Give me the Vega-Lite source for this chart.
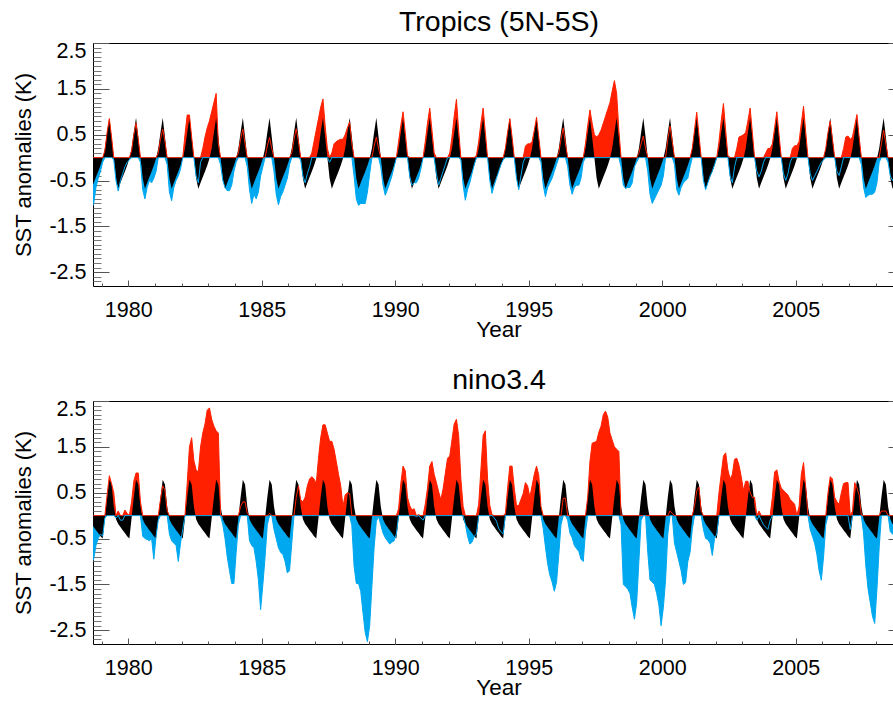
{
"$schema": "https://vega.github.io/schema/vega-lite/v6.json",
"padding": {"left": 11, "top": 7, "right": 0, "bottom": 0},
"background": "white",
"config": {"font": "Liberation Sans", "view": {"stroke": null},
 "axis": {"labelFont": "Liberation Sans", "titleFont": "Liberation Sans", "labelColor": "#000", "titleColor": "#000", "domainColor": "#000", "tickColor": "#555", "grid": false, "minExtent": 0}},
"data": {"values": [
{"t":1978.625,"c1":-0.68,"p1":0,"n1":-1.1,"c2":-0.18,"p2":0,"n2":-1.05},
{"t":1978.708,"c1":-0.55,"p1":0,"n1":-1.0,"c2":-0.25,"p2":0,"n2":-0.94},
{"t":1978.792,"c1":-0.42,"p1":0,"n1":-0.65,"c2":-0.32,"p2":0,"n2":-0.65},
{"t":1978.875,"c1":-0.3,"p1":0,"n1":-0.45,"c2":-0.38,"p2":0,"n2":-0.5},
{"t":1978.958,"c1":-0.17,"p1":0,"n1":-0.3,"c2":-0.45,"p2":0,"n2":-0.4},
{"t":1979.042,"c1":-0.02,"p1":0,"n1":-0.1,"c2":-0.5,"p2":0,"n2":-0.45},
{"t":1979.125,"c1":0.2,"p1":0.15,"n1":0,"c2":-0.05,"p2":0,"n2":-0.05},
{"t":1979.208,"c1":0.55,"p1":0.55,"n1":0,"c2":0.4,"p2":0.45,"n2":0},
{"t":1979.292,"c1":0.87,"p1":0.85,"n1":0,"c2":0.78,"p2":0.87,"n2":0},
{"t":1979.375,"c1":0.45,"p1":0.45,"n1":0,"c2":0.68,"p2":0.7,"n2":0},
{"t":1979.458,"c1":0,"p1":0,"n1":-0.05,"c2":0.2,"p2":0.5,"n2":0},
{"t":1979.542,"c1":-0.45,"p1":0,"n1":-0.5,"c2":-0.08,"p2":0,"n2":-0.05},
{"t":1979.625,"c1":-0.68,"p1":0,"n1":-0.73,"c2":-0.18,"p2":0.1,"n2":0},
{"t":1979.708,"c1":-0.55,"p1":0,"n1":-0.5,"c2":-0.25,"p2":0,"n2":-0.1},
{"t":1979.792,"c1":-0.42,"p1":0,"n1":-0.35,"c2":-0.32,"p2":0,"n2":-0.1},
{"t":1979.875,"c1":-0.3,"p1":0,"n1":-0.2,"c2":-0.38,"p2":0.12,"n2":0},
{"t":1979.958,"c1":-0.17,"p1":0,"n1":-0.1,"c2":-0.45,"p2":0.05,"n2":0},
{"t":1980.042,"c1":-0.02,"p1":0,"n1":-0.05,"c2":-0.5,"p2":0,"n2":0},
{"t":1980.125,"c1":0.2,"p1":0.15,"n1":0,"c2":-0.05,"p2":0.3,"n2":0},
{"t":1980.208,"c1":0.55,"p1":0.5,"n1":0,"c2":0.4,"p2":0.75,"n2":0},
{"t":1980.292,"c1":0.87,"p1":0.75,"n1":0,"c2":0.78,"p2":0.93,"n2":0},
{"t":1980.375,"c1":0.45,"p1":0.4,"n1":0,"c2":0.68,"p2":0.93,"n2":0},
{"t":1980.458,"c1":0,"p1":0,"n1":-0.1,"c2":0.2,"p2":0.3,"n2":0},
{"t":1980.542,"c1":-0.45,"p1":0,"n1":-0.7,"c2":-0.08,"p2":0,"n2":-0.45},
{"t":1980.625,"c1":-0.68,"p1":0,"n1":-0.9,"c2":-0.18,"p2":0,"n2":-0.5},
{"t":1980.708,"c1":-0.55,"p1":0,"n1":-0.65,"c2":-0.25,"p2":0,"n2":-0.52},
{"t":1980.792,"c1":-0.42,"p1":0,"n1":-0.5,"c2":-0.32,"p2":0,"n2":-0.55},
{"t":1980.875,"c1":-0.3,"p1":0,"n1":-0.55,"c2":-0.38,"p2":0,"n2":-0.5},
{"t":1980.958,"c1":-0.17,"p1":0,"n1":-0.45,"c2":-0.45,"p2":0,"n2":-0.95},
{"t":1981.042,"c1":-0.02,"p1":0,"n1":-0.3,"c2":-0.5,"p2":0,"n2":-0.45},
{"t":1981.125,"c1":0.2,"p1":0.1,"n1":0,"c2":-0.05,"p2":0,"n2":-0.1},
{"t":1981.208,"c1":0.55,"p1":0.4,"n1":0,"c2":0.4,"p2":0.35,"n2":0},
{"t":1981.292,"c1":0.87,"p1":0.62,"n1":0,"c2":0.78,"p2":0.65,"n2":0},
{"t":1981.375,"c1":0.45,"p1":0.35,"n1":0,"c2":0.68,"p2":0.55,"n2":0},
{"t":1981.458,"c1":0,"p1":0,"n1":-0.15,"c2":0.2,"p2":0.1,"n2":0},
{"t":1981.542,"c1":-0.45,"p1":0,"n1":-0.75,"c2":-0.08,"p2":0,"n2":-0.4},
{"t":1981.625,"c1":-0.68,"p1":0,"n1":-0.94,"c2":-0.18,"p2":0,"n2":-0.55},
{"t":1981.708,"c1":-0.55,"p1":0,"n1":-0.65,"c2":-0.25,"p2":0,"n2":-0.6},
{"t":1981.792,"c1":-0.42,"p1":0,"n1":-0.5,"c2":-0.32,"p2":0,"n2":-0.65},
{"t":1981.875,"c1":-0.3,"p1":0,"n1":-0.4,"c2":-0.38,"p2":0,"n2":-1.0},
{"t":1981.958,"c1":-0.17,"p1":0,"n1":-0.25,"c2":-0.45,"p2":0,"n2":-0.6},
{"t":1982.042,"c1":-0.02,"p1":0,"n1":0,"c2":-0.5,"p2":0,"n2":-0.3},
{"t":1982.125,"c1":0.2,"p1":0.5,"n1":0,"c2":-0.05,"p2":0,"n2":0},
{"t":1982.208,"c1":0.55,"p1":0.93,"n1":0,"c2":0.4,"p2":0.7,"n2":0},
{"t":1982.292,"c1":0.87,"p1":0.93,"n1":0,"c2":0.78,"p2":1.5,"n2":0},
{"t":1982.375,"c1":0.45,"p1":0.45,"n1":0,"c2":0.68,"p2":1.7,"n2":0},
{"t":1982.458,"c1":0,"p1":0,"n1":0,"c2":0.2,"p2":1.2,"n2":0},
{"t":1982.542,"c1":-0.45,"p1":0,"n1":-0.4,"c2":-0.08,"p2":1.0,"n2":0},
{"t":1982.625,"c1":-0.68,"p1":0,"n1":-0.55,"c2":-0.18,"p2":0.95,"n2":0},
{"t":1982.708,"c1":-0.55,"p1":0,"n1":-0.1,"c2":-0.25,"p2":1.5,"n2":0},
{"t":1982.792,"c1":-0.42,"p1":0.2,"n1":0,"c2":-0.32,"p2":1.8,"n2":0},
{"t":1982.875,"c1":-0.3,"p1":0.45,"n1":0,"c2":-0.38,"p2":2.0,"n2":0},
{"t":1982.958,"c1":-0.17,"p1":0.65,"n1":0,"c2":-0.45,"p2":2.3,"n2":0},
{"t":1983.042,"c1":-0.02,"p1":0.8,"n1":0,"c2":-0.5,"p2":2.35,"n2":0},
{"t":1983.125,"c1":0.2,"p1":1.0,"n1":0,"c2":-0.05,"p2":2.1,"n2":0},
{"t":1983.208,"c1":0.55,"p1":1.2,"n1":0,"c2":0.4,"p2":1.95,"n2":0},
{"t":1983.292,"c1":0.87,"p1":1.4,"n1":0,"c2":0.78,"p2":1.85,"n2":0},
{"t":1983.375,"c1":0.45,"p1":0.3,"n1":0,"c2":0.68,"p2":1.8,"n2":0},
{"t":1983.458,"c1":0,"p1":0,"n1":-0.15,"c2":0.2,"p2":0,"n2":0},
{"t":1983.542,"c1":-0.45,"p1":0,"n1":-0.5,"c2":-0.08,"p2":0,"n2":-0.2},
{"t":1983.625,"c1":-0.68,"p1":0,"n1":-0.65,"c2":-0.18,"p2":0,"n2":-0.5},
{"t":1983.708,"c1":-0.55,"p1":0,"n1":-0.72,"c2":-0.25,"p2":0,"n2":-0.9},
{"t":1983.792,"c1":-0.42,"p1":0,"n1":-0.72,"c2":-0.32,"p2":0,"n2":-1.2},
{"t":1983.875,"c1":-0.3,"p1":0,"n1":-0.6,"c2":-0.38,"p2":0,"n2":-1.48},
{"t":1983.958,"c1":-0.17,"p1":0,"n1":-0.3,"c2":-0.45,"p2":0,"n2":-1.48},
{"t":1984.042,"c1":-0.02,"p1":0,"n1":-0.1,"c2":-0.5,"p2":0,"n2":-0.8},
{"t":1984.125,"c1":0.2,"p1":0.1,"n1":0,"c2":-0.05,"p2":0,"n2":-0.2},
{"t":1984.208,"c1":0.55,"p1":0.4,"n1":0,"c2":0.4,"p2":0.2,"n2":0},
{"t":1984.292,"c1":0.87,"p1":0.62,"n1":0,"c2":0.78,"p2":0.3,"n2":0},
{"t":1984.375,"c1":0.45,"p1":0.3,"n1":0,"c2":0.68,"p2":0.3,"n2":0},
{"t":1984.458,"c1":0,"p1":0,"n1":-0.2,"c2":0.2,"p2":0.05,"n2":0},
{"t":1984.542,"c1":-0.45,"p1":0,"n1":-0.7,"c2":-0.08,"p2":0,"n2":-0.55},
{"t":1984.625,"c1":-0.68,"p1":0,"n1":-1.0,"c2":-0.18,"p2":0,"n2":-0.65},
{"t":1984.708,"c1":-0.55,"p1":0,"n1":-0.8,"c2":-0.25,"p2":0,"n2":-0.7},
{"t":1984.792,"c1":-0.42,"p1":0,"n1":-0.9,"c2":-0.32,"p2":0,"n2":-1.0},
{"t":1984.875,"c1":-0.3,"p1":0,"n1":-0.75,"c2":-0.38,"p2":0,"n2":-1.4},
{"t":1984.958,"c1":-0.17,"p1":0,"n1":-0.4,"c2":-0.45,"p2":0,"n2":-2.05},
{"t":1985.042,"c1":-0.02,"p1":0,"n1":-0.2,"c2":-0.5,"p2":0,"n2":-1.5},
{"t":1985.125,"c1":0.2,"p1":0,"n1":0,"c2":-0.05,"p2":0,"n2":-0.9},
{"t":1985.208,"c1":0.55,"p1":0.25,"n1":0,"c2":0.4,"p2":0,"n2":-0.2},
{"t":1985.292,"c1":0.87,"p1":0.44,"n1":0,"c2":0.78,"p2":0.05,"n2":0},
{"t":1985.375,"c1":0.45,"p1":0.2,"n1":0,"c2":0.68,"p2":0,"n2":0},
{"t":1985.458,"c1":0,"p1":0,"n1":-0.3,"c2":0.2,"p2":0,"n2":-0.3},
{"t":1985.542,"c1":-0.45,"p1":0,"n1":-0.8,"c2":-0.08,"p2":0,"n2":-0.5},
{"t":1985.625,"c1":-0.68,"p1":0,"n1":-1.03,"c2":-0.18,"p2":0,"n2":-0.7},
{"t":1985.708,"c1":-0.55,"p1":0,"n1":-0.85,"c2":-0.25,"p2":0,"n2":-0.8},
{"t":1985.792,"c1":-0.42,"p1":0,"n1":-0.75,"c2":-0.32,"p2":0,"n2":-0.85},
{"t":1985.875,"c1":-0.3,"p1":0,"n1":-0.6,"c2":-0.38,"p2":0,"n2":-1.0},
{"t":1985.958,"c1":-0.17,"p1":0,"n1":-0.45,"c2":-0.45,"p2":0,"n2":-1.25},
{"t":1986.042,"c1":-0.02,"p1":0,"n1":-0.15,"c2":-0.5,"p2":0,"n2":-1.2},
{"t":1986.125,"c1":0.2,"p1":0.1,"n1":0,"c2":-0.05,"p2":0,"n2":-0.6},
{"t":1986.208,"c1":0.55,"p1":0.4,"n1":0,"c2":0.4,"p2":0,"n2":0},
{"t":1986.292,"c1":0.87,"p1":0.63,"n1":0,"c2":0.78,"p2":0.4,"n2":0},
{"t":1986.375,"c1":0.45,"p1":0.35,"n1":0,"c2":0.68,"p2":0.65,"n2":0},
{"t":1986.458,"c1":0,"p1":0,"n1":-0.05,"c2":0.2,"p2":0.35,"n2":0},
{"t":1986.542,"c1":-0.45,"p1":0,"n1":-0.4,"c2":-0.08,"p2":0.3,"n2":0},
{"t":1986.625,"c1":-0.68,"p1":0,"n1":-0.55,"c2":-0.18,"p2":0.4,"n2":0},
{"t":1986.708,"c1":-0.55,"p1":0,"n1":-0.35,"c2":-0.25,"p2":0.65,"n2":0},
{"t":1986.792,"c1":-0.42,"p1":0,"n1":-0.2,"c2":-0.32,"p2":0.8,"n2":0},
{"t":1986.875,"c1":-0.3,"p1":0.1,"n1":0,"c2":-0.38,"p2":0.85,"n2":0},
{"t":1986.958,"c1":-0.17,"p1":0.35,"n1":0,"c2":-0.45,"p2":0.8,"n2":0},
{"t":1987.042,"c1":-0.02,"p1":0.6,"n1":0,"c2":-0.5,"p2":0.7,"n2":0},
{"t":1987.125,"c1":0.2,"p1":0.85,"n1":0,"c2":-0.05,"p2":1.25,"n2":0},
{"t":1987.208,"c1":0.55,"p1":1.1,"n1":0,"c2":0.4,"p2":1.7,"n2":0},
{"t":1987.292,"c1":0.87,"p1":1.28,"n1":0,"c2":0.78,"p2":1.98,"n2":0},
{"t":1987.375,"c1":0.45,"p1":0.7,"n1":0,"c2":0.68,"p2":1.98,"n2":0},
{"t":1987.458,"c1":0,"p1":0.2,"n1":0,"c2":0.2,"p2":1.8,"n2":0},
{"t":1987.542,"c1":-0.45,"p1":0,"n1":-0.1,"c2":-0.08,"p2":1.62,"n2":0},
{"t":1987.625,"c1":-0.68,"p1":0.1,"n1":0,"c2":-0.18,"p2":1.62,"n2":0},
{"t":1987.708,"c1":-0.55,"p1":0.3,"n1":0,"c2":-0.25,"p2":1.45,"n2":0},
{"t":1987.792,"c1":-0.42,"p1":0.35,"n1":0,"c2":-0.32,"p2":1.18,"n2":0},
{"t":1987.875,"c1":-0.3,"p1":0.38,"n1":0,"c2":-0.38,"p2":0.9,"n2":0},
{"t":1987.958,"c1":-0.17,"p1":0.4,"n1":0,"c2":-0.45,"p2":0.65,"n2":0},
{"t":1988.042,"c1":-0.02,"p1":0.4,"n1":0,"c2":-0.5,"p2":0.2,"n2":0},
{"t":1988.125,"c1":0.2,"p1":0.5,"n1":0,"c2":-0.05,"p2":0.45,"n2":0},
{"t":1988.208,"c1":0.55,"p1":0.65,"n1":0,"c2":0.4,"p2":0.5,"n2":0},
{"t":1988.292,"c1":0.87,"p1":0.78,"n1":0,"c2":0.78,"p2":0.48,"n2":0},
{"t":1988.375,"c1":0.45,"p1":0.3,"n1":0,"c2":0.68,"p2":0,"n2":-0.22},
{"t":1988.458,"c1":0,"p1":0,"n1":-0.4,"c2":0.2,"p2":0,"n2":-1.1},
{"t":1988.542,"c1":-0.45,"p1":0,"n1":-0.9,"c2":-0.08,"p2":0,"n2":-1.48},
{"t":1988.625,"c1":-0.68,"p1":0,"n1":-1.04,"c2":-0.18,"p2":0,"n2":-1.48},
{"t":1988.708,"c1":-0.55,"p1":0,"n1":-1.0,"c2":-0.25,"p2":0,"n2":-1.65},
{"t":1988.792,"c1":-0.42,"p1":0,"n1":-1.0,"c2":-0.32,"p2":0,"n2":-2.12},
{"t":1988.875,"c1":-0.3,"p1":0,"n1":-1.0,"c2":-0.38,"p2":0,"n2":-2.55},
{"t":1988.958,"c1":-0.17,"p1":0,"n1":-0.75,"c2":-0.45,"p2":0,"n2":-2.75},
{"t":1989.042,"c1":-0.02,"p1":0,"n1":-0.35,"c2":-0.5,"p2":0,"n2":-2.4},
{"t":1989.125,"c1":0.2,"p1":0,"n1":0,"c2":-0.05,"p2":0,"n2":-1.55},
{"t":1989.208,"c1":0.55,"p1":0.25,"n1":0,"c2":0.4,"p2":0,"n2":-0.7},
{"t":1989.292,"c1":0.87,"p1":0.45,"n1":0,"c2":0.78,"p2":0,"n2":-0.12},
{"t":1989.375,"c1":0.45,"p1":0.2,"n1":0,"c2":0.68,"p2":0,"n2":-0.02},
{"t":1989.458,"c1":0,"p1":0,"n1":-0.2,"c2":0.2,"p2":0,"n2":-0.2},
{"t":1989.542,"c1":-0.45,"p1":0,"n1":-0.6,"c2":-0.08,"p2":0,"n2":-0.38},
{"t":1989.625,"c1":-0.68,"p1":0,"n1":-0.82,"c2":-0.18,"p2":0,"n2":-0.48},
{"t":1989.708,"c1":-0.55,"p1":0,"n1":-0.7,"c2":-0.25,"p2":0,"n2":-0.55},
{"t":1989.792,"c1":-0.42,"p1":0,"n1":-0.55,"c2":-0.32,"p2":0,"n2":-0.62},
{"t":1989.875,"c1":-0.3,"p1":0,"n1":-0.4,"c2":-0.38,"p2":0,"n2":-0.58},
{"t":1989.958,"c1":-0.17,"p1":0,"n1":-0.2,"c2":-0.45,"p2":0,"n2":-0.55},
{"t":1990.042,"c1":-0.02,"p1":0,"n1":0,"c2":-0.5,"p2":0,"n2":-0.4},
{"t":1990.125,"c1":0.2,"p1":0.35,"n1":0,"c2":-0.05,"p2":0.15,"n2":0},
{"t":1990.208,"c1":0.55,"p1":0.7,"n1":0,"c2":0.4,"p2":0.7,"n2":0},
{"t":1990.292,"c1":0.87,"p1":1.0,"n1":0,"c2":0.78,"p2":1.08,"n2":0},
{"t":1990.375,"c1":0.45,"p1":0.55,"n1":0,"c2":0.68,"p2":0.98,"n2":0},
{"t":1990.458,"c1":0,"p1":0.05,"n1":0,"c2":0.2,"p2":0.4,"n2":0},
{"t":1990.542,"c1":-0.45,"p1":0,"n1":-0.4,"c2":-0.08,"p2":0.22,"n2":0},
{"t":1990.625,"c1":-0.68,"p1":0,"n1":-0.6,"c2":-0.18,"p2":0.12,"n2":0},
{"t":1990.708,"c1":-0.55,"p1":0,"n1":-0.55,"c2":-0.25,"p2":0.15,"n2":0},
{"t":1990.792,"c1":-0.42,"p1":0,"n1":-0.55,"c2":-0.32,"p2":0,"n2":-0.02},
{"t":1990.875,"c1":-0.3,"p1":0,"n1":-0.45,"c2":-0.38,"p2":0.02,"n2":0},
{"t":1990.958,"c1":-0.17,"p1":0,"n1":-0.25,"c2":-0.45,"p2":0,"n2":-0.05},
{"t":1991.042,"c1":-0.02,"p1":0,"n1":0,"c2":-0.5,"p2":0,"n2":-0.1},
{"t":1991.125,"c1":0.2,"p1":0.35,"n1":0,"c2":-0.05,"p2":0.25,"n2":0},
{"t":1991.208,"c1":0.55,"p1":0.75,"n1":0,"c2":0.4,"p2":0.6,"n2":0},
{"t":1991.292,"c1":0.87,"p1":1.08,"n1":0,"c2":0.78,"p2":1.08,"n2":0},
{"t":1991.375,"c1":0.45,"p1":0.6,"n1":0,"c2":0.68,"p2":1.18,"n2":0},
{"t":1991.458,"c1":0,"p1":0.1,"n1":0,"c2":0.2,"p2":0.9,"n2":0},
{"t":1991.542,"c1":-0.45,"p1":0,"n1":-0.35,"c2":-0.08,"p2":0.72,"n2":0},
{"t":1991.625,"c1":-0.68,"p1":0,"n1":-0.6,"c2":-0.18,"p2":0.52,"n2":0},
{"t":1991.708,"c1":-0.55,"p1":0,"n1":-0.45,"c2":-0.25,"p2":0.35,"n2":0},
{"t":1991.792,"c1":-0.42,"p1":0,"n1":-0.3,"c2":-0.32,"p2":0.58,"n2":0},
{"t":1991.875,"c1":-0.3,"p1":0,"n1":-0.15,"c2":-0.38,"p2":0.92,"n2":0},
{"t":1991.958,"c1":-0.17,"p1":0,"n1":0,"c2":-0.45,"p2":1.25,"n2":0},
{"t":1992.042,"c1":-0.02,"p1":0.1,"n1":0,"c2":-0.5,"p2":1.3,"n2":0},
{"t":1992.125,"c1":0.2,"p1":0.45,"n1":0,"c2":-0.05,"p2":1.65,"n2":0},
{"t":1992.208,"c1":0.55,"p1":0.9,"n1":0,"c2":0.4,"p2":2.0,"n2":0},
{"t":1992.292,"c1":0.87,"p1":1.27,"n1":0,"c2":0.78,"p2":2.1,"n2":0},
{"t":1992.375,"c1":0.45,"p1":0.6,"n1":0,"c2":0.68,"p2":1.75,"n2":0},
{"t":1992.458,"c1":0,"p1":0,"n1":-0.05,"c2":0.2,"p2":0.8,"n2":0},
{"t":1992.542,"c1":-0.45,"p1":0,"n1":-0.6,"c2":-0.08,"p2":0.2,"n2":0},
{"t":1992.625,"c1":-0.68,"p1":0,"n1":-0.93,"c2":-0.18,"p2":0,"n2":-0.18},
{"t":1992.708,"c1":-0.55,"p1":0,"n1":-0.7,"c2":-0.25,"p2":0,"n2":-0.45},
{"t":1992.792,"c1":-0.42,"p1":0,"n1":-0.55,"c2":-0.32,"p2":0,"n2":-0.62},
{"t":1992.875,"c1":-0.3,"p1":0,"n1":-0.35,"c2":-0.38,"p2":0,"n2":-0.58},
{"t":1992.958,"c1":-0.17,"p1":0,"n1":-0.15,"c2":-0.45,"p2":0,"n2":-0.45},
{"t":1993.042,"c1":-0.02,"p1":0.05,"n1":0,"c2":-0.5,"p2":0,"n2":-0.4},
{"t":1993.125,"c1":0.2,"p1":0.35,"n1":0,"c2":-0.05,"p2":0.25,"n2":0},
{"t":1993.208,"c1":0.55,"p1":0.75,"n1":0,"c2":0.4,"p2":1.0,"n2":0},
{"t":1993.292,"c1":0.87,"p1":1.08,"n1":0,"c2":0.78,"p2":1.75,"n2":0},
{"t":1993.375,"c1":0.45,"p1":0.55,"n1":0,"c2":0.68,"p2":1.85,"n2":0},
{"t":1993.458,"c1":0,"p1":0,"n1":0,"c2":0.2,"p2":0.8,"n2":0},
{"t":1993.542,"c1":-0.45,"p1":0,"n1":-0.5,"c2":-0.08,"p2":0.22,"n2":0},
{"t":1993.625,"c1":-0.68,"p1":0,"n1":-0.78,"c2":-0.18,"p2":0.02,"n2":0},
{"t":1993.708,"c1":-0.55,"p1":0,"n1":-0.6,"c2":-0.25,"p2":0,"n2":-0.05},
{"t":1993.792,"c1":-0.42,"p1":0,"n1":-0.45,"c2":-0.32,"p2":0,"n2":-0.12},
{"t":1993.875,"c1":-0.3,"p1":0,"n1":-0.3,"c2":-0.38,"p2":0,"n2":-0.28},
{"t":1993.958,"c1":-0.17,"p1":0,"n1":-0.15,"c2":-0.45,"p2":0,"n2":-0.35},
{"t":1994.042,"c1":-0.02,"p1":0,"n1":-0.05,"c2":-0.5,"p2":0,"n2":-0.4},
{"t":1994.125,"c1":0.2,"p1":0.2,"n1":0,"c2":-0.05,"p2":0.05,"n2":0},
{"t":1994.208,"c1":0.55,"p1":0.55,"n1":0,"c2":0.4,"p2":0.6,"n2":0},
{"t":1994.292,"c1":0.87,"p1":0.85,"n1":0,"c2":0.78,"p2":1.08,"n2":0},
{"t":1994.375,"c1":0.45,"p1":0.45,"n1":0,"c2":0.68,"p2":1.08,"n2":0},
{"t":1994.458,"c1":0,"p1":0,"n1":0,"c2":0.2,"p2":0.6,"n2":0},
{"t":1994.542,"c1":-0.45,"p1":0,"n1":-0.45,"c2":-0.08,"p2":0.22,"n2":0},
{"t":1994.625,"c1":-0.68,"p1":0,"n1":-0.7,"c2":-0.18,"p2":0.22,"n2":0},
{"t":1994.708,"c1":-0.55,"p1":0,"n1":-0.4,"c2":-0.25,"p2":0.35,"n2":0},
{"t":1994.792,"c1":-0.42,"p1":0,"n1":-0.1,"c2":-0.32,"p2":0.48,"n2":0},
{"t":1994.875,"c1":-0.3,"p1":0.25,"n1":0,"c2":-0.38,"p2":0.72,"n2":0},
{"t":1994.958,"c1":-0.17,"p1":0.3,"n1":0,"c2":-0.45,"p2":0.65,"n2":0},
{"t":1995.042,"c1":-0.02,"p1":0.3,"n1":0,"c2":-0.5,"p2":0.4,"n2":0},
{"t":1995.125,"c1":0.2,"p1":0.35,"n1":0,"c2":-0.05,"p2":0.65,"n2":0},
{"t":1995.208,"c1":0.55,"p1":0.6,"n1":0,"c2":0.4,"p2":0.9,"n2":0},
{"t":1995.292,"c1":0.87,"p1":0.88,"n1":0,"c2":0.78,"p2":1.08,"n2":0},
{"t":1995.375,"c1":0.45,"p1":0.45,"n1":0,"c2":0.68,"p2":0.88,"n2":0},
{"t":1995.458,"c1":0,"p1":0,"n1":-0.1,"c2":0.2,"p2":0.2,"n2":0},
{"t":1995.542,"c1":-0.45,"p1":0,"n1":-0.6,"c2":-0.08,"p2":0,"n2":-0.28},
{"t":1995.625,"c1":-0.68,"p1":0,"n1":-0.85,"c2":-0.18,"p2":0,"n2":-0.68},
{"t":1995.708,"c1":-0.55,"p1":0,"n1":-0.65,"c2":-0.25,"p2":0,"n2":-1.05},
{"t":1995.792,"c1":-0.42,"p1":0,"n1":-0.55,"c2":-0.32,"p2":0,"n2":-1.3},
{"t":1995.875,"c1":-0.3,"p1":0,"n1":-0.45,"c2":-0.38,"p2":0,"n2":-1.45},
{"t":1995.958,"c1":-0.17,"p1":0,"n1":-0.3,"c2":-0.45,"p2":0,"n2":-1.65},
{"t":1996.042,"c1":-0.02,"p1":0,"n1":-0.15,"c2":-0.5,"p2":0,"n2":-1.45},
{"t":1996.125,"c1":0.2,"p1":0.1,"n1":0,"c2":-0.05,"p2":0,"n2":-0.85},
{"t":1996.208,"c1":0.55,"p1":0.4,"n1":0,"c2":0.4,"p2":0,"n2":-0.2},
{"t":1996.292,"c1":0.87,"p1":0.65,"n1":0,"c2":0.78,"p2":0.38,"n2":0},
{"t":1996.375,"c1":0.45,"p1":0.3,"n1":0,"c2":0.68,"p2":0.38,"n2":0},
{"t":1996.458,"c1":0,"p1":0,"n1":-0.2,"c2":0.2,"p2":0,"n2":-0.1},
{"t":1996.542,"c1":-0.45,"p1":0,"n1":-0.6,"c2":-0.08,"p2":0,"n2":-0.38},
{"t":1996.625,"c1":-0.68,"p1":0,"n1":-0.8,"c2":-0.18,"p2":0,"n2":-0.48},
{"t":1996.708,"c1":-0.55,"p1":0,"n1":-0.65,"c2":-0.25,"p2":0,"n2":-0.65},
{"t":1996.792,"c1":-0.42,"p1":0,"n1":-0.6,"c2":-0.32,"p2":0,"n2":-0.72},
{"t":1996.875,"c1":-0.3,"p1":0,"n1":-0.6,"c2":-0.38,"p2":0,"n2":-0.78},
{"t":1996.958,"c1":-0.17,"p1":0,"n1":-0.45,"c2":-0.45,"p2":0,"n2":-0.95},
{"t":1997.042,"c1":-0.02,"p1":0,"n1":-0.1,"c2":-0.5,"p2":0,"n2":-1.0},
{"t":1997.125,"c1":0.2,"p1":0.3,"n1":0,"c2":-0.05,"p2":0,"n2":-0.35},
{"t":1997.208,"c1":0.55,"p1":0.7,"n1":0,"c2":0.4,"p2":0.4,"n2":0},
{"t":1997.292,"c1":0.87,"p1":1.04,"n1":0,"c2":0.78,"p2":1.18,"n2":0},
{"t":1997.375,"c1":0.45,"p1":0.75,"n1":0,"c2":0.68,"p2":1.58,"n2":0},
{"t":1997.458,"c1":0,"p1":0.5,"n1":0,"c2":0.2,"p2":1.6,"n2":0},
{"t":1997.542,"c1":-0.45,"p1":0.45,"n1":0,"c2":-0.08,"p2":1.62,"n2":0},
{"t":1997.625,"c1":-0.68,"p1":0.5,"n1":0,"c2":-0.18,"p2":1.82,"n2":0},
{"t":1997.708,"c1":-0.55,"p1":0.6,"n1":0,"c2":-0.25,"p2":1.95,"n2":0},
{"t":1997.792,"c1":-0.42,"p1":0.75,"n1":0,"c2":-0.32,"p2":2.2,"n2":0},
{"t":1997.875,"c1":-0.3,"p1":0.9,"n1":0,"c2":-0.38,"p2":2.28,"n2":0},
{"t":1997.958,"c1":-0.17,"p1":1.05,"n1":0,"c2":-0.45,"p2":2.15,"n2":0},
{"t":1998.042,"c1":-0.02,"p1":1.2,"n1":0,"c2":-0.5,"p2":1.8,"n2":0},
{"t":1998.125,"c1":0.2,"p1":1.45,"n1":0,"c2":-0.05,"p2":1.65,"n2":0},
{"t":1998.208,"c1":0.55,"p1":1.68,"n1":0,"c2":0.4,"p2":1.5,"n2":0},
{"t":1998.292,"c1":0.87,"p1":1.4,"n1":0,"c2":0.78,"p2":1.45,"n2":0},
{"t":1998.375,"c1":0.45,"p1":0.6,"n1":0,"c2":0.68,"p2":1.4,"n2":0},
{"t":1998.458,"c1":0,"p1":0,"n1":-0.2,"c2":0.2,"p2":0,"n2":-0.2},
{"t":1998.542,"c1":-0.45,"p1":0,"n1":-0.6,"c2":-0.08,"p2":0,"n2":-1.5},
{"t":1998.625,"c1":-0.68,"p1":0,"n1":-0.67,"c2":-0.18,"p2":0,"n2":-1.55},
{"t":1998.708,"c1":-0.55,"p1":0,"n1":-0.65,"c2":-0.25,"p2":0,"n2":-1.6},
{"t":1998.792,"c1":-0.42,"p1":0,"n1":-0.65,"c2":-0.32,"p2":0,"n2":-1.7},
{"t":1998.875,"c1":-0.3,"p1":0,"n1":-0.55,"c2":-0.38,"p2":0,"n2":-2.0},
{"t":1998.958,"c1":-0.17,"p1":0,"n1":-0.2,"c2":-0.45,"p2":0,"n2":-2.26},
{"t":1999.042,"c1":-0.02,"p1":0,"n1":-0.1,"c2":-0.5,"p2":0,"n2":-1.9},
{"t":1999.125,"c1":0.2,"p1":0.1,"n1":0,"c2":-0.05,"p2":0,"n2":-1.0},
{"t":1999.208,"c1":0.55,"p1":0.3,"n1":0,"c2":0.4,"p2":0,"n2":-0.1},
{"t":1999.292,"c1":0.87,"p1":0.47,"n1":0,"c2":0.78,"p2":0,"n2":0},
{"t":1999.375,"c1":0.45,"p1":0.2,"n1":0,"c2":0.68,"p2":0,"n2":0},
{"t":1999.458,"c1":0,"p1":0,"n1":-0.3,"c2":0.2,"p2":0,"n2":-0.8},
{"t":1999.542,"c1":-0.45,"p1":0,"n1":-0.8,"c2":-0.08,"p2":0,"n2":-1.4},
{"t":1999.625,"c1":-0.68,"p1":0,"n1":-1.0,"c2":-0.18,"p2":0,"n2":-1.45},
{"t":1999.708,"c1":-0.55,"p1":0,"n1":-0.9,"c2":-0.25,"p2":0,"n2":-1.5},
{"t":1999.792,"c1":-0.42,"p1":0,"n1":-0.8,"c2":-0.32,"p2":0,"n2":-1.7},
{"t":1999.875,"c1":-0.3,"p1":0,"n1":-0.7,"c2":-0.38,"p2":0,"n2":-1.95},
{"t":1999.958,"c1":-0.17,"p1":0,"n1":-0.6,"c2":-0.45,"p2":0,"n2":-2.4},
{"t":2000.042,"c1":-0.02,"p1":0,"n1":-0.4,"c2":-0.5,"p2":0,"n2":-2.0},
{"t":2000.125,"c1":0.2,"p1":0,"n1":0,"c2":-0.05,"p2":0,"n2":-1.4},
{"t":2000.208,"c1":0.55,"p1":0.4,"n1":0,"c2":0.4,"p2":0,"n2":-0.4},
{"t":2000.292,"c1":0.87,"p1":0.69,"n1":0,"c2":0.78,"p2":0.1,"n2":0},
{"t":2000.375,"c1":0.45,"p1":0.35,"n1":0,"c2":0.68,"p2":0.05,"n2":0},
{"t":2000.458,"c1":0,"p1":0,"n1":-0.15,"c2":0.2,"p2":0,"n2":-0.6},
{"t":2000.542,"c1":-0.45,"p1":0,"n1":-0.7,"c2":-0.08,"p2":0,"n2":-0.8},
{"t":2000.625,"c1":-0.68,"p1":0,"n1":-0.82,"c2":-0.18,"p2":0,"n2":-1.0},
{"t":2000.708,"c1":-0.55,"p1":0,"n1":-0.65,"c2":-0.25,"p2":0,"n2":-1.2},
{"t":2000.792,"c1":-0.42,"p1":0,"n1":-0.55,"c2":-0.32,"p2":0,"n2":-1.5},
{"t":2000.875,"c1":-0.3,"p1":0,"n1":-0.5,"c2":-0.38,"p2":0,"n2":-1.46},
{"t":2000.958,"c1":-0.17,"p1":0,"n1":-0.45,"c2":-0.45,"p2":0,"n2":-1.0},
{"t":2001.042,"c1":-0.02,"p1":0,"n1":-0.2,"c2":-0.5,"p2":0,"n2":-0.8},
{"t":2001.125,"c1":0.2,"p1":0.2,"n1":0,"c2":-0.05,"p2":0,"n2":-0.3},
{"t":2001.208,"c1":0.55,"p1":0.6,"n1":0,"c2":0.4,"p2":0.2,"n2":0},
{"t":2001.292,"c1":0.87,"p1":0.99,"n1":0,"c2":0.78,"p2":0.54,"n2":0},
{"t":2001.375,"c1":0.45,"p1":0.5,"n1":0,"c2":0.68,"p2":0.62,"n2":0},
{"t":2001.458,"c1":0,"p1":0,"n1":0,"c2":0.2,"p2":0.1,"n2":0},
{"t":2001.542,"c1":-0.45,"p1":0,"n1":-0.5,"c2":-0.08,"p2":0,"n2":-0.3},
{"t":2001.625,"c1":-0.68,"p1":0,"n1":-0.7,"c2":-0.18,"p2":0,"n2":-0.5},
{"t":2001.708,"c1":-0.55,"p1":0,"n1":-0.55,"c2":-0.25,"p2":0,"n2":-0.52},
{"t":2001.792,"c1":-0.42,"p1":0,"n1":-0.4,"c2":-0.32,"p2":0,"n2":-0.6},
{"t":2001.875,"c1":-0.3,"p1":0,"n1":-0.3,"c2":-0.38,"p2":0,"n2":-0.87},
{"t":2001.958,"c1":-0.17,"p1":0,"n1":-0.15,"c2":-0.45,"p2":0,"n2":-0.5},
{"t":2002.042,"c1":-0.02,"p1":0,"n1":0,"c2":-0.5,"p2":0,"n2":-0.4},
{"t":2002.125,"c1":0.2,"p1":0.35,"n1":0,"c2":-0.05,"p2":0.5,"n2":0},
{"t":2002.208,"c1":0.55,"p1":0.8,"n1":0,"c2":0.4,"p2":0.9,"n2":0},
{"t":2002.292,"c1":0.87,"p1":1.18,"n1":0,"c2":0.78,"p2":1.3,"n2":0},
{"t":2002.375,"c1":0.45,"p1":0.6,"n1":0,"c2":0.68,"p2":1.37,"n2":0},
{"t":2002.458,"c1":0,"p1":0.05,"n1":0,"c2":0.2,"p2":1.0,"n2":0},
{"t":2002.542,"c1":-0.45,"p1":0,"n1":-0.4,"c2":-0.08,"p2":0.8,"n2":0},
{"t":2002.625,"c1":-0.68,"p1":0,"n1":-0.55,"c2":-0.18,"p2":0.9,"n2":0},
{"t":2002.708,"c1":-0.55,"p1":0,"n1":-0.2,"c2":-0.25,"p2":1.23,"n2":0},
{"t":2002.792,"c1":-0.42,"p1":0.2,"n1":0,"c2":-0.32,"p2":1.25,"n2":0},
{"t":2002.875,"c1":-0.3,"p1":0.45,"n1":0,"c2":-0.38,"p2":1.1,"n2":0},
{"t":2002.958,"c1":-0.17,"p1":0.47,"n1":0,"c2":-0.45,"p2":0.85,"n2":0},
{"t":2003.042,"c1":-0.02,"p1":0.5,"n1":0,"c2":-0.5,"p2":0.55,"n2":0},
{"t":2003.125,"c1":0.2,"p1":0.55,"n1":0,"c2":-0.05,"p2":0.75,"n2":0},
{"t":2003.208,"c1":0.55,"p1":0.8,"n1":0,"c2":0.4,"p2":0.75,"n2":0},
{"t":2003.292,"c1":0.87,"p1":1.08,"n1":0,"c2":0.78,"p2":0.5,"n2":0},
{"t":2003.375,"c1":0.45,"p1":0.55,"n1":0,"c2":0.68,"p2":0.4,"n2":0},
{"t":2003.458,"c1":0,"p1":0,"n1":0,"c2":0.2,"p2":0.4,"n2":0},
{"t":2003.542,"c1":-0.45,"p1":0,"n1":-0.3,"c2":-0.08,"p2":0,"n2":-0.1},
{"t":2003.625,"c1":-0.68,"p1":0,"n1":-0.42,"c2":-0.18,"p2":0.1,"n2":0},
{"t":2003.708,"c1":-0.55,"p1":0,"n1":-0.3,"c2":-0.25,"p2":0,"n2":-0.1},
{"t":2003.792,"c1":-0.42,"p1":0,"n1":-0.1,"c2":-0.32,"p2":0,"n2":-0.2},
{"t":2003.875,"c1":-0.3,"p1":0.1,"n1":0,"c2":-0.38,"p2":0,"n2":-0.25},
{"t":2003.958,"c1":-0.17,"p1":0.2,"n1":0,"c2":-0.45,"p2":0,"n2":-0.3},
{"t":2004.042,"c1":-0.02,"p1":0.2,"n1":0,"c2":-0.5,"p2":0,"n2":-0.1},
{"t":2004.125,"c1":0.2,"p1":0.3,"n1":0,"c2":-0.05,"p2":0.4,"n2":0},
{"t":2004.208,"c1":0.55,"p1":0.65,"n1":0,"c2":0.4,"p2":0.95,"n2":0},
{"t":2004.292,"c1":0.87,"p1":1.0,"n1":0,"c2":0.78,"p2":1.0,"n2":0},
{"t":2004.375,"c1":0.45,"p1":0.5,"n1":0,"c2":0.68,"p2":0.75,"n2":0},
{"t":2004.458,"c1":0,"p1":0,"n1":0,"c2":0.2,"p2":0.6,"n2":0},
{"t":2004.542,"c1":-0.45,"p1":0,"n1":-0.35,"c2":-0.08,"p2":0.55,"n2":0},
{"t":2004.625,"c1":-0.68,"p1":0,"n1":-0.5,"c2":-0.18,"p2":0.5,"n2":0},
{"t":2004.708,"c1":-0.55,"p1":0,"n1":-0.35,"c2":-0.25,"p2":0.45,"n2":0},
{"t":2004.792,"c1":-0.42,"p1":0,"n1":-0.1,"c2":-0.32,"p2":0.35,"n2":0},
{"t":2004.875,"c1":-0.3,"p1":0.2,"n1":0,"c2":-0.38,"p2":0.3,"n2":0},
{"t":2004.958,"c1":-0.17,"p1":0.26,"n1":0,"c2":-0.45,"p2":0.25,"n2":0},
{"t":2005.042,"c1":-0.02,"p1":0.26,"n1":0,"c2":-0.5,"p2":0,"n2":0},
{"t":2005.125,"c1":0.2,"p1":0.35,"n1":0,"c2":-0.05,"p2":0.2,"n2":0},
{"t":2005.208,"c1":0.55,"p1":0.75,"n1":0,"c2":0.4,"p2":0.9,"n2":0},
{"t":2005.292,"c1":0.87,"p1":1.12,"n1":0,"c2":0.78,"p2":1.16,"n2":0},
{"t":2005.375,"c1":0.45,"p1":0.55,"n1":0,"c2":0.68,"p2":0.6,"n2":0},
{"t":2005.458,"c1":0,"p1":0,"n1":0,"c2":0.2,"p2":0,"n2":0},
{"t":2005.542,"c1":-0.45,"p1":0,"n1":-0.35,"c2":-0.08,"p2":0,"n2":-0.3},
{"t":2005.625,"c1":-0.68,"p1":0,"n1":-0.5,"c2":-0.18,"p2":0,"n2":-0.45},
{"t":2005.708,"c1":-0.55,"p1":0,"n1":-0.4,"c2":-0.25,"p2":0,"n2":-0.6},
{"t":2005.792,"c1":-0.42,"p1":0,"n1":-0.3,"c2":-0.32,"p2":0,"n2":-0.85},
{"t":2005.875,"c1":-0.3,"p1":0,"n1":-0.2,"c2":-0.38,"p2":0,"n2":-1.2},
{"t":2005.958,"c1":-0.17,"p1":0,"n1":-0.1,"c2":-0.45,"p2":0,"n2":-1.41},
{"t":2006.042,"c1":-0.02,"p1":0,"n1":-0.05,"c2":-0.5,"p2":0,"n2":-0.9},
{"t":2006.125,"c1":0.2,"p1":0.2,"n1":0,"c2":-0.05,"p2":0,"n2":-0.2},
{"t":2006.208,"c1":0.55,"p1":0.55,"n1":0,"c2":0.4,"p2":0.5,"n2":0},
{"t":2006.292,"c1":0.87,"p1":0.8,"n1":0,"c2":0.78,"p2":0.85,"n2":0},
{"t":2006.375,"c1":0.45,"p1":0.4,"n1":0,"c2":0.68,"p2":0.8,"n2":0},
{"t":2006.458,"c1":0,"p1":0,"n1":0,"c2":0.2,"p2":0.4,"n2":0},
{"t":2006.542,"c1":-0.45,"p1":0,"n1":-0.3,"c2":-0.08,"p2":0.3,"n2":0},
{"t":2006.625,"c1":-0.68,"p1":0,"n1":-0.39,"c2":-0.18,"p2":0.25,"n2":0},
{"t":2006.708,"c1":-0.55,"p1":0,"n1":-0.2,"c2":-0.25,"p2":0.5,"n2":0},
{"t":2006.792,"c1":-0.42,"p1":0.2,"n1":0,"c2":-0.32,"p2":0.7,"n2":0},
{"t":2006.875,"c1":-0.3,"p1":0.45,"n1":0,"c2":-0.38,"p2":0.72,"n2":0},
{"t":2006.958,"c1":-0.17,"p1":0.47,"n1":0,"c2":-0.45,"p2":0.72,"n2":0},
{"t":2007.042,"c1":-0.02,"p1":0.4,"n1":0,"c2":-0.5,"p2":0,"n2":-0.3},
{"t":2007.125,"c1":0.2,"p1":0.45,"n1":0,"c2":-0.05,"p2":0.1,"n2":0},
{"t":2007.208,"c1":0.55,"p1":0.7,"n1":0,"c2":0.4,"p2":0.72,"n2":0},
{"t":2007.292,"c1":0.87,"p1":0.94,"n1":0,"c2":0.78,"p2":0.6,"n2":0},
{"t":2007.375,"c1":0.45,"p1":0.45,"n1":0,"c2":0.68,"p2":0.45,"n2":0},
{"t":2007.458,"c1":0,"p1":0,"n1":-0.15,"c2":0.2,"p2":0,"n2":0},
{"t":2007.542,"c1":-0.45,"p1":0,"n1":-0.65,"c2":-0.08,"p2":0,"n2":-0.4},
{"t":2007.625,"c1":-0.68,"p1":0,"n1":-0.87,"c2":-0.18,"p2":0,"n2":-1.1},
{"t":2007.708,"c1":-0.55,"p1":0,"n1":-0.82,"c2":-0.25,"p2":0,"n2":-1.6},
{"t":2007.792,"c1":-0.42,"p1":0,"n1":-0.8,"c2":-0.32,"p2":0,"n2":-1.9},
{"t":2007.875,"c1":-0.3,"p1":0,"n1":-0.8,"c2":-0.38,"p2":0,"n2":-2.2},
{"t":2007.958,"c1":-0.17,"p1":0,"n1":-0.75,"c2":-0.45,"p2":0,"n2":-2.35},
{"t":2008.042,"c1":-0.02,"p1":0,"n1":-0.55,"c2":-0.5,"p2":0,"n2":-1.6},
{"t":2008.125,"c1":0.2,"p1":0,"n1":-0.1,"c2":-0.05,"p2":0,"n2":-0.7},
{"t":2008.208,"c1":0.55,"p1":0.3,"n1":0,"c2":0.4,"p2":0.1,"n2":0},
{"t":2008.292,"c1":0.87,"p1":0.6,"n1":0,"c2":0.78,"p2":0.1,"n2":0},
{"t":2008.375,"c1":0.45,"p1":0.3,"n1":0,"c2":0.68,"p2":0.1,"n2":0},
{"t":2008.458,"c1":0,"p1":0,"n1":-0.1,"c2":0.2,"p2":0,"n2":0},
{"t":2008.542,"c1":-0.45,"p1":0,"n1":-0.4,"c2":-0.08,"p2":0,"n2":-0.35},
{"t":2008.625,"c1":-0.68,"p1":0,"n1":-0.5,"c2":-0.18,"p2":0,"n2":-0.4},
{"t":2008.708,"c1":-0.55,"p1":0,"n1":-0.4,"c2":-0.25,"p2":0,"n2":-0.45}
]},
"spacing": 115,
"bounds": "flush",
"vconcat": [
{
 "width": 801, "height": 243,
 "layer": [
  {"mark": {"type": "area", "color": "#ff2000", "clip": true},
   "encoding": {
    "x": {"field": "t", "type": "quantitative", "scale": {"domain": [1978.68, 2008.68], "nice": false, "zero": false},
          "axis": {"orient": "bottom", "values": [1980,1985,1990,1995,2000,2005], "format": "d", "ticks": false, "domain": true, "labelFontSize": 21.5, "labelPadding": 13, "labelFlush": false, "title": "Year", "titleFontSize": 22.5, "titleFontWeight": "normal", "titleX": 405.5, "titleY": 43, "titleAlign": "center", "titleBaseline": "middle"}},
    "y": {"field": "p1", "type": "quantitative", "scale": {"domain": [-2.8, 2.5], "nice": false},
          "axis": {"orient": "left", "values": [-2.5,-1.5,-0.5,0.5,1.5,2.5], "format": ".1f", "labelExpr": "replace(datum.label, '−', '-')", "ticks": false, "domain": true, "labelFontSize": 21.5, "labelPadding": 7, "labelFlush": true, "labelFlushOffset": 3, "title": "SST anomalies (K)", "titleFontSize": 22, "titleFontWeight": "normal", "titleX": -70, "titleY": 121.5, "titleAngle": -90, "titleAlign": "center", "titleBaseline": "middle"}},
    "y2": {"datum": 0}}},
  {"mark": {"type": "area", "color": "#00a8f0", "clip": true},
   "encoding": {
    "x": {"field": "t", "type": "quantitative", "axis": {"orient": "bottom", "values": [1980,1985,1990,1995,2000,2005], "labels": false, "domain": false, "tickSize": 6, "offset": -6, "title": null}},
    "y": {"field": "n1", "type": "quantitative", "axis": {"orient": "left", "values": [-2.5,-1.5,-0.5,0.5,1.5,2.5], "labels": false, "domain": false, "tickSize": 16, "offset": -16, "title": null}},
    "y2": {"datum": 0}}},
  {"mark": {"type": "area", "color": "#000000", "clip": true},
   "encoding": {
    "x": {"field": "t", "type": "quantitative", "axis": {"orient": "bottom", "values": [1979,1980,1981,1982,1983,1984,1985,1986,1987,1988,1989,1990,1991,1992,1993,1994,1995,1996,1997,1998,1999,2000,2001,2002,2003,2004,2005,2006,2007,2008], "labels": false, "domain": false, "tickSize": 3, "offset": -3, "title": null}},
    "y": {"field": "c1", "type": "quantitative", "axis": {"orient": "left", "values": [-2.7,-2.6,-2.4,-2.3,-2.2,-2.1,-2.0,-1.9,-1.8,-1.7,-1.6,-1.4,-1.3,-1.2,-1.1,-1.0,-0.9,-0.8,-0.7,-0.6,-0.4,-0.3,-0.2,-0.1,0,0.1,0.2,0.3,0.4,0.6,0.7,0.8,0.9,1.0,1.1,1.2,1.3,1.4,1.6,1.7,1.8,1.9,2.0,2.1,2.2,2.3,2.4], "labels": false, "domain": false, "tickSize": 8, "offset": -8, "tickColor": "#777", "title": null}},
    "y2": {"datum": 0}}},
  {"mark": {"type": "line", "color": "#ff2000", "strokeWidth": 1, "clip": true},
   "encoding": {
    "x": {"field": "t", "type": "quantitative", "axis": {"orient": "top", "labels": false, "ticks": false, "domain": true, "title": "Tropics (5N-5S)", "titleFontSize": 28.5, "titleFontWeight": "normal", "titleX": 405.5, "titleY": -22, "titleAlign": "center", "titleBaseline": "middle", "titleAngle": 0}},
    "y": {"field": "p1", "type": "quantitative", "axis": {"orient": "right", "values": [-2.5,-1.5,-0.5,0.5,1.5,2.5], "labels": false, "domain": false, "tickSize": 6, "offset": -6, "title": null}}}},
  {"mark": {"type": "line", "color": "#00a8f0", "strokeWidth": 1, "clip": true},
   "encoding": {
    "x": {"field": "t", "type": "quantitative", "axis": null},
    "y": {"field": "n1", "type": "quantitative", "axis": null}}}
 ],
 "resolve": {"axis": {"x": "independent", "y": "independent"}}
},
{
 "width": 801, "height": 243,
 "layer": [
  {"mark": {"type": "area", "color": "#ff2000", "clip": true},
   "encoding": {
    "x": {"field": "t", "type": "quantitative", "scale": {"domain": [1978.68, 2008.68], "nice": false, "zero": false},
          "axis": {"orient": "bottom", "values": [1980,1985,1990,1995,2000,2005], "format": "d", "ticks": false, "domain": true, "labelFontSize": 21.5, "labelPadding": 13, "labelFlush": false, "title": "Year", "titleFontSize": 22.5, "titleFontWeight": "normal", "titleX": 405.5, "titleY": 43, "titleAlign": "center", "titleBaseline": "middle"}},
    "y": {"field": "p2", "type": "quantitative", "scale": {"domain": [-2.8, 2.5], "nice": false},
          "axis": {"orient": "left", "values": [-2.5,-1.5,-0.5,0.5,1.5,2.5], "format": ".1f", "labelExpr": "replace(datum.label, '−', '-')", "ticks": false, "domain": true, "labelFontSize": 21.5, "labelPadding": 7, "labelFlush": true, "labelFlushOffset": 3, "title": "SST anomalies (K)", "titleFontSize": 22, "titleFontWeight": "normal", "titleX": -70, "titleY": 121.5, "titleAngle": -90, "titleAlign": "center", "titleBaseline": "middle"}},
    "y2": {"datum": 0}}},
  {"mark": {"type": "area", "color": "#00a8f0", "clip": true},
   "encoding": {
    "x": {"field": "t", "type": "quantitative", "axis": {"orient": "bottom", "values": [1980,1985,1990,1995,2000,2005], "labels": false, "domain": false, "tickSize": 6, "offset": -6, "title": null}},
    "y": {"field": "n2", "type": "quantitative", "axis": {"orient": "left", "values": [-2.5,-1.5,-0.5,0.5,1.5,2.5], "labels": false, "domain": false, "tickSize": 16, "offset": -16, "title": null}},
    "y2": {"datum": 0}}},
  {"mark": {"type": "area", "color": "#000000", "clip": true},
   "encoding": {
    "x": {"field": "t", "type": "quantitative", "axis": {"orient": "bottom", "values": [1979,1980,1981,1982,1983,1984,1985,1986,1987,1988,1989,1990,1991,1992,1993,1994,1995,1996,1997,1998,1999,2000,2001,2002,2003,2004,2005,2006,2007,2008], "labels": false, "domain": false, "tickSize": 3, "offset": -3, "title": null}},
    "y": {"field": "c2", "type": "quantitative", "axis": {"orient": "left", "values": [-2.7,-2.6,-2.4,-2.3,-2.2,-2.1,-2.0,-1.9,-1.8,-1.7,-1.6,-1.4,-1.3,-1.2,-1.1,-1.0,-0.9,-0.8,-0.7,-0.6,-0.4,-0.3,-0.2,-0.1,0,0.1,0.2,0.3,0.4,0.6,0.7,0.8,0.9,1.0,1.1,1.2,1.3,1.4,1.6,1.7,1.8,1.9,2.0,2.1,2.2,2.3,2.4], "labels": false, "domain": false, "tickSize": 8, "offset": -8, "tickColor": "#777", "title": null}},
    "y2": {"datum": 0}}},
  {"mark": {"type": "line", "color": "#ff2000", "strokeWidth": 1, "clip": true},
   "encoding": {
    "x": {"field": "t", "type": "quantitative", "axis": {"orient": "top", "labels": false, "ticks": false, "domain": true, "title": "nino3.4", "titleFontSize": 28.5, "titleFontWeight": "normal", "titleX": 405.5, "titleY": -22, "titleAlign": "center", "titleBaseline": "middle", "titleAngle": 0}},
    "y": {"field": "p2", "type": "quantitative", "axis": {"orient": "right", "values": [-2.5,-1.5,-0.5,0.5,1.5,2.5], "labels": false, "domain": false, "tickSize": 6, "offset": -6, "title": null}}}},
  {"mark": {"type": "line", "color": "#00a8f0", "strokeWidth": 1, "clip": true},
   "encoding": {
    "x": {"field": "t", "type": "quantitative", "axis": null},
    "y": {"field": "n2", "type": "quantitative", "axis": null}}}
 ],
 "resolve": {"axis": {"x": "independent", "y": "independent"}}
}
]
}
